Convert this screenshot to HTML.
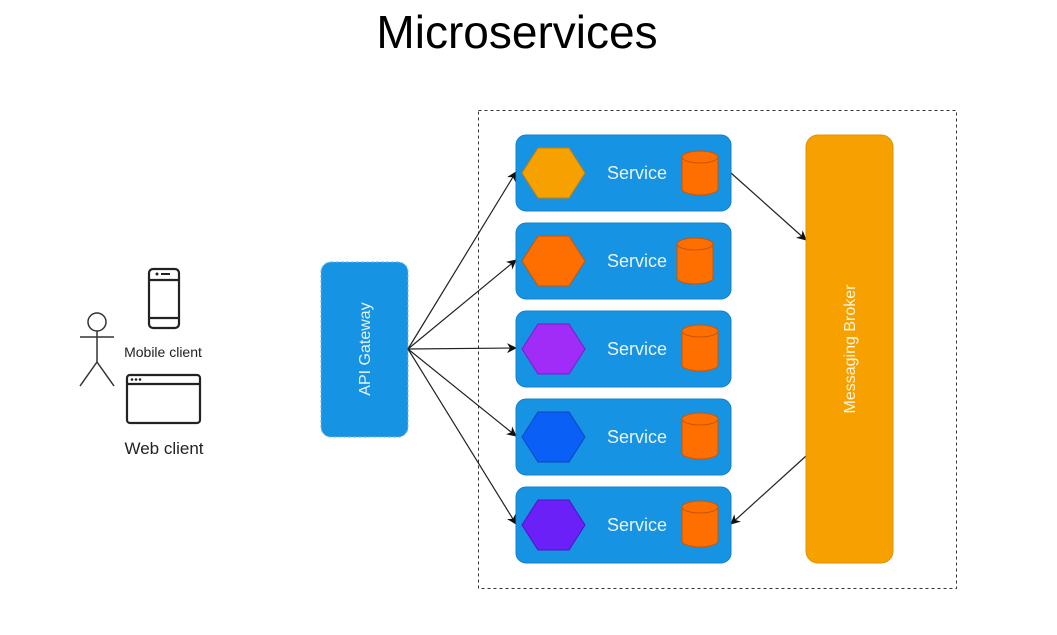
<!DOCTYPE html>
<html><head><meta charset="utf-8"><style>
html,body{margin:0;padding:0;background:#fff;width:1057px;height:635px;overflow:hidden}
svg{display:block}
text{font-family:"Liberation Sans",sans-serif}
</style></head><body>
<svg width="1057" height="635" viewBox="0 0 1057 635">
<defs>
<marker id="a" markerWidth="10" markerHeight="10" refX="9" refY="5" orient="auto" markerUnits="userSpaceOnUse">
<path d="M0,0 L10,5 L0,10 L3,5 z" fill="#111"/></marker>
</defs>
<text x="517" y="48" font-size="46" text-anchor="middle" fill="#000">Microservices</text>
<rect x="478.5" y="110.5" width="478" height="478" fill="none" stroke="#333" stroke-dasharray="3,3"/>
<!-- actor -->
<g stroke="#333" stroke-width="1.5" fill="none">
<circle cx="97" cy="322" r="9" fill="#fff"/>
<line x1="97" y1="331" x2="97" y2="362"/>
<line x1="80" y1="337" x2="114" y2="337"/>
<line x1="97" y1="362" x2="80" y2="386"/>
<line x1="97" y1="362" x2="114" y2="386"/>
</g>
<g stroke="#222" stroke-width="2.2" fill="none">
<rect x="149" y="269" width="30" height="59" rx="4"/>
<line x1="149" y1="280" x2="179" y2="280"/>
<line x1="149" y1="318" x2="179" y2="318"/>
<rect x="127" y="375" width="73" height="48" rx="3"/>
<line x1="127" y1="384" x2="200" y2="384"/>
</g>
<g fill="#222"><circle cx="157" cy="274" r="1.5"/><rect x="161" y="273" width="9" height="2"/>
<circle cx="132" cy="379.5" r="1.3"/><circle cx="136" cy="379.5" r="1.3"/><circle cx="140" cy="379.5" r="1.3"/></g>
<text x="163" y="357" font-size="14" text-anchor="middle" fill="#222">Mobile client</text>
<text x="164" y="454" font-size="17" text-anchor="middle" fill="#222">Web client</text>
<!-- gateway -->
<rect x="321" y="262" width="87" height="175" rx="10" fill="#1793e3" stroke="#6fb8ec" stroke-dasharray="3,2"/>
<text transform="translate(370,349) rotate(-90)" font-size="16" text-anchor="middle" fill="#e8f3fc">API Gateway</text>
<!-- arrows -->
<g stroke="#222" stroke-width="1.2" marker-end="url(#a)">
<line x1="408" y1="349" x2="516" y2="172"/>
<line x1="408" y1="349" x2="516" y2="260"/>
<line x1="408" y1="349" x2="516" y2="348"/>
<line x1="408" y1="349" x2="516" y2="436"/>
<line x1="408" y1="349" x2="516" y2="524"/>
<line x1="731" y1="173" x2="806" y2="240"/>
<line x1="806" y1="456" x2="731" y2="524"/>
</g>
<!-- services -->
<g>
<rect x="516" y="135" width="215" height="76" rx="10" fill="#1793e3" stroke="#1080cc"/>
<rect x="516" y="223" width="215" height="76" rx="10" fill="#1793e3" stroke="#1080cc"/>
<rect x="516" y="311" width="215" height="76" rx="10" fill="#1793e3" stroke="#1080cc"/>
<rect x="516" y="399" width="215" height="76" rx="10" fill="#1793e3" stroke="#1080cc"/>
<rect x="516" y="487" width="215" height="76" rx="10" fill="#1793e3" stroke="#1080cc"/>
</g>
<polygon points="522,173 538,148 569,148 585,173 569,198 538,198" fill="#f7a100" stroke="#c98000"/>
<polygon points="522,261 538,236 569,236 585,261 569,286 538,286" fill="#ff6f00" stroke="#c95500"/>
<polygon points="522,349 538,324 569,324 585,349 569,374 538,374" fill="#a12cf7" stroke="#7a1cc4"/>
<polygon points="522,437 538,412 569,412 585,437 569,462 538,462" fill="#0a5ff7" stroke="#0a45c0"/>
<polygon points="522,525 538,500 569,500 585,525 569,550 538,550" fill="#6a20f7" stroke="#4d14c0"/>
<g fill="#e8f3fc" font-size="18" text-anchor="middle">
<text x="637" y="179">Service</text><text x="637" y="267">Service</text><text x="637" y="355">Service</text><text x="637" y="443">Service</text><text x="637" y="531">Service</text>
</g>
<g fill="#ff6f00" stroke="#c95500" stroke-width="1">
<path d="M682,157 v32 a18,6 0 0 0 36,0 v-32 a18,6 0 0 0 -36,0 a18,6 0 0 0 36,0"/>
<path d="M677,244 v34 a18,6 0 0 0 36,0 v-34 a18,6 0 0 0 -36,0 a18,6 0 0 0 36,0"/>
<path d="M682,331 v34 a18,6 0 0 0 36,0 v-34 a18,6 0 0 0 -36,0 a18,6 0 0 0 36,0"/>
<path d="M682,419 v34 a18,6 0 0 0 36,0 v-34 a18,6 0 0 0 -36,0 a18,6 0 0 0 36,0"/>
<path d="M682,507 v34 a18,6 0 0 0 36,0 v-34 a18,6 0 0 0 -36,0 a18,6 0 0 0 36,0"/>
</g>
<!-- broker -->
<rect x="806" y="135" width="87" height="428" rx="12" fill="#f7a100" stroke="#e09200"/>
<text transform="translate(855,349) rotate(-90)" font-size="16" text-anchor="middle" fill="#fff5e0">Messaging Broker</text>
</svg>
</body></html>
